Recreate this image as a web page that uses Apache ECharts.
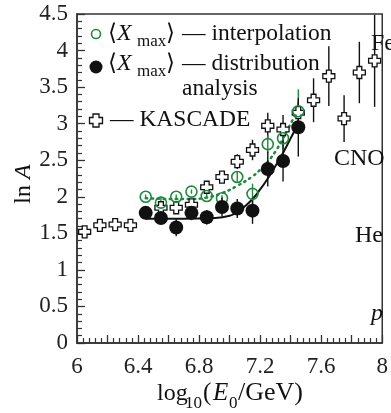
<!DOCTYPE html>
<html>
<head>
<meta charset="utf-8">
<script src="https://cdn.jsdelivr.net/npm/echarts@6/dist/echarts.min.js"></script>
<style>
html, body { margin: 0; padding: 0; background: #fff; }
#chart { width: 391px; height: 413px; }
</style>
</head>
<body>
<div id="chart"></div>
<script>
// <Xmax> points (interpolation = open green, distribution analysis = filled black)
const xmaxX = [6.45, 6.55, 6.65, 6.75, 6.85, 6.95, 7.05, 7.15, 7.25, 7.35, 7.45]
const interpY = [2.00, 1.92, 2.00, 2.07, 2.01, 1.98, 2.27, 2.04, 2.72, 2.80, 3.17]
const interpErr = [0.03, 0.08, 0.03, 0.03, 0.03, 0.04, 0.08, 0.14, 0.12, 0.15, 0.3]
const distrY = [1.78, 1.71, 1.58, 1.78, 1.72, 1.86, 1.84, 1.81, 2.38, 2.49, 2.95]
const distrErr = [0.05, 0.07, 0.12, 0.1, 0.1, 0.13, 0.13, 0.18, 0.24, 0.28, 0.4]

// KASCADE (open crosses)
const kascadeX = [6.05, 6.15, 6.25, 6.35, 6.55, 6.65, 6.75, 6.85, 6.95, 7.05, 7.15, 7.25, 7.35, 7.45, 7.55, 7.65, 7.75, 7.85, 7.95]
const kascadeY = [1.52, 1.61, 1.62, 1.61, 1.85, 1.85, 1.89, 2.13, 2.27, 2.48, 2.64, 2.97, 2.92, 3.15, 3.32, 3.65, 3.07, 3.70, 3.86]
const kascadeErr = [0, 0, 0, 0, 0, 0, 0, 0.03, 0.06, 0.1, 0.14, 0.18, 0.2, 0.15, 0.3, 0.41, 0.32, 0.42, 0.63]

// fitted curves
const distrFitX = [6.45, 6.7, 6.9, 7.0, 7.05, 7.1, 7.15, 7.2, 7.25, 7.3, 7.35, 7.4, 7.45]
const distrFitY = [1.70, 1.70, 1.71, 1.74, 1.79, 1.87, 1.97, 2.10, 2.25, 2.42, 2.60, 2.80, 3.0]
const interpFitX = [6.45, 6.6, 6.75, 6.85, 6.95, 7.05, 7.15, 7.2, 7.25, 7.3, 7.35, 7.4, 7.45]
const interpFitY = [1.98, 1.97, 1.97, 1.99, 2.05, 2.15, 2.28, 2.37, 2.48, 2.62, 2.80, 3.0, 3.2]

const xTicks = [6, 6.4, 6.8, 7.2, 7.6, 8]

const green = '#1f8a3e'
const black = '#111111'
const serif = "'Liberation Serif', 'DejaVu Serif', serif"
const crossPath = 'path://M3,0 H7 V3 H10 V7 H7 V10 H3 V7 H0 V3 H3 Z'

const pairs = (xs, ys) => xs.map((x, i) => [x, ys[i]])
const triples = (xs, ys, es) => xs.map((x, i) => [x, ys[i], es[i]])

const errRender = (color) => (params, api) => {
    const x = api.value(0), y = api.value(1), e = api.value(2)
    if (!e) return null
    const lo = api.coord([x, y - e])
    const hi = api.coord([x, y + e])
    return {
        type: 'line',
        shape: { x1: lo[0], y1: lo[1], x2: hi[0], y2: hi[1] },
        style: { stroke: color, lineWidth: 1.4 }
    }
}

// text placed by its baseline
const txt = (text, x, base, size, extra) => ({
    type: 'text',
    silent: true,
    style: Object.assign({
        text: text,
        x: x,
        y: base - size * 0.34,
        font: (extra && extra.italic ? 'italic ' : '') + size + 'px ' + serif,
        fill: '#111',
        align: 'left',
        verticalAlign: 'middle'
    }, extra && extra.align ? { align: extra.align } : {})
})

const chart = echarts.init(document.getElementById('chart'))

chart.setOption({
    animation: false,
    grid: {
        left: 77, right: 2, top: 14, bottom: 70,
        show: true, borderColor: '#333', borderWidth: 1.5
    },
    xAxis: {
        type: 'value',
        min: 6, max: 8, interval: 0.2,
        axisLine: { lineStyle: { color: '#333', width: 1.5 } },
        axisTick: { inside: true, length: 8, lineStyle: { color: '#333', width: 1.3 } },
        minorTick: { show: true, splitNumber: 5, length: 5, lineStyle: { color: '#333', width: 1.2 } },
        splitLine: { show: false },
        axisLabel: {
            margin: 12, fontFamily: serif, fontSize: 23, color: '#222',
            showMaxLabel: true, showMinLabel: true,
            formatter: (v) => xTicks.some(t => Math.abs(t - v) < 1e-6) ? String(Math.round(v * 10) / 10) : ''
        }
    },
    yAxis: {
        type: 'value',
        min: 0, max: 4.5, interval: 0.5,
        axisLine: { lineStyle: { color: '#333', width: 1.5 } },
        axisTick: { inside: true, length: 8, lineStyle: { color: '#333', width: 1.3 } },
        minorTick: { show: true, splitNumber: 5, length: 5, lineStyle: { color: '#333', width: 1.2 } },
        splitLine: { show: false },
        axisLabel: { margin: 9, fontFamily: serif, fontSize: 23, color: '#222', showMaxLabel: true }
    },
    series: [
        {
            type: 'line',
            data: pairs(distrFitX, distrFitY),
            smooth: true, showSymbol: false,
            lineStyle: { color: black, width: 2 },
            z: 2
        },
        {
            type: 'line',
            data: pairs(interpFitX, interpFitY),
            smooth: true, showSymbol: false,
            lineStyle: { color: green, width: 2.5, type: [1.5, 4.5], cap: 'round' },
            z: 2
        },
        {
            type: 'custom',
            renderItem: errRender(black),
            data: triples(kascadeX, kascadeY, kascadeErr),
            z: 3
        },
        {
            type: 'custom',
            renderItem: errRender(green),
            data: triples(xmaxX, interpY, interpErr),
            z: 3
        },
        {
            type: 'custom',
            renderItem: errRender(black),
            data: triples(xmaxX, distrY, distrErr),
            z: 3
        },
        {
            type: 'scatter',
            data: pairs(kascadeX, kascadeY),
            symbol: crossPath, symbolSize: 12,
            itemStyle: { color: '#fff', borderColor: black, borderWidth: 1.3, opacity: 1 },
            z: 4
        },
        {
            type: 'scatter',
            data: pairs(xmaxX, interpY),
            symbol: 'circle', symbolSize: 11,
            itemStyle: { color: 'rgba(255,255,255,0)', borderColor: green, borderWidth: 1.6, opacity: 1 },
            z: 5
        },
        {
            type: 'scatter',
            data: pairs(xmaxX, distrY),
            symbol: 'circle', symbolSize: 14,
            itemStyle: { color: black, opacity: 1 },
            z: 6
        }
    ],
    graphic: [
        // legend
        { type: 'circle', silent: true, shape: { cx: 96, cy: 34, r: 4.5 }, style: { fill: '#fff', stroke: green, lineWidth: 1.6 } },
        txt('\u27E8', 108, 42, 23),
        txt('X', 117, 42, 24, { italic: true }),
        txt('max', 137, 47, 17),
        txt('\u27E9', 166, 42, 23),
        txt('\u2014 interpolation', 182, 42, 23.5),

        { type: 'circle', silent: true, shape: { cx: 96, cy: 67, r: 6.5 }, style: { fill: black } },
        txt('\u27E8', 108, 72, 23),
        txt('X', 117, 72, 24, { italic: true }),
        txt('max', 137, 77, 17),
        txt('\u27E9', 166, 72, 23),
        txt('\u2014 distribution', 182, 72, 23.5),
        txt('analysis', 182, 97, 23.5),

        { type: 'polygon', silent: true,
          shape: { points: [[93, 114], [99, 114], [99, 117.5], [102.5, 117.5], [102.5, 123.5], [99, 123.5], [99, 127], [93, 127], [93, 123.5], [89.5, 123.5], [89.5, 117.5], [93, 117.5]] },
          style: { fill: '#fff', stroke: black, lineWidth: 1.3 } },
        txt('\u2014 KASCADE', 110, 128, 23.5),

        // composition labels
        txt('Fe', 371, 52, 24),
        txt('CNO', 334, 167, 24),
        txt('He', 383, 244, 24, { align: 'right' }),
        txt('p', 383, 322, 24, { align: 'right', italic: true }),

        // axis titles
        {
            type: 'text', silent: true,
            x: 24, y: 184, rotation: Math.PI / 2,
            style: {
                text: '{a|ln }{b|A}', x: 0, y: 0, align: 'center', verticalAlign: 'middle',
                rich: {
                    a: { fontFamily: serif, fontSize: 24, fill: '#111' },
                    b: { fontFamily: serif, fontSize: 24, fontStyle: 'italic', fill: '#111' }
                }
            }
        },
        txt('log', 157, 402, 24),
        txt('10', 185, 409, 17),
        txt('(', 203, 402, 25),
        txt('E', 213, 402, 25, { italic: true }),
        txt('0', 229, 409, 17),
        txt('/GeV)', 238, 402, 26)
    ]
})

window.addEventListener('resize', function () {
    chart.resize()
})
</script>
</body>
</html>
